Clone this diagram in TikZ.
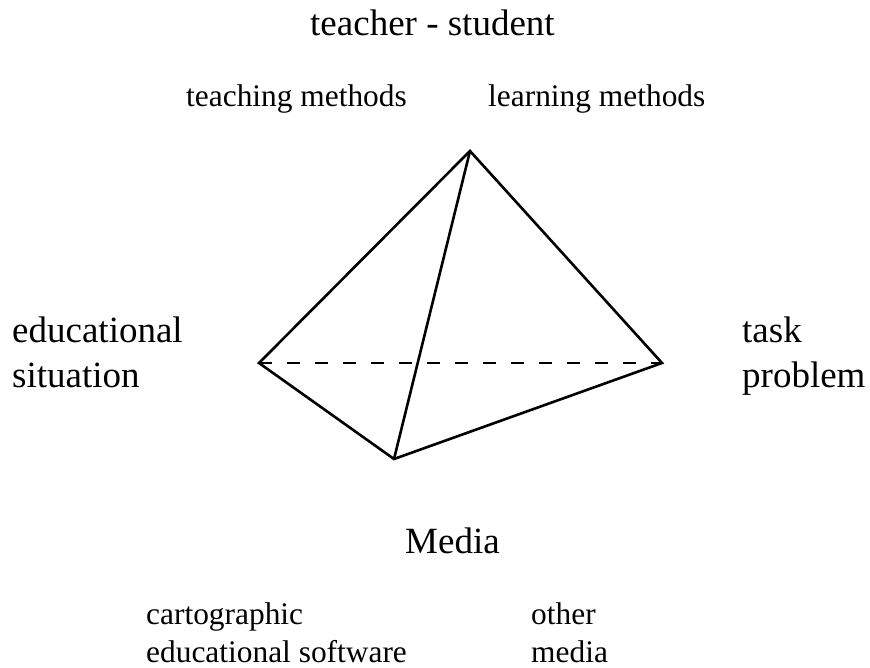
\documentclass[tikz,border=0pt]{standalone}
\usepackage{fontspec}
\setmainfont{Liberation Serif}
\begin{document}
\begin{tikzpicture}[x=1pt,y=-1pt,
  big/.style={anchor=base west,inner sep=0pt,font=\fontsize{37}{37}\selectfont},
  small/.style={anchor=base west,inner sep=0pt,font=\fontsize{31.4}{31.4}\selectfont},
  edge/.style={line width=2.6pt,line join=miter},
  hidden/.style={edge,dash pattern=on 13pt off 15pt}]
\useasboundingbox (0,0) rectangle (870,668);

% corners of the tetrahedron
\coordinate (top) at (470,151);
\coordinate (left) at (259,363);
\coordinate (right) at (662,363);
\coordinate (bottom) at (394,459);

% hidden back edge
\draw[hidden] (left) -- (right);
% visible edges
\draw[edge] (left) -- (top) -- (right) -- (bottom) -- cycle;
\draw[edge] (top) -- (bottom);

% labels
\node[big] (ts) at (310,36) {teacher - student};
\node[small] (tm) at (186,107) {teaching methods};
\node[small] (lm) at (488,107) {learning methods};

\node[big] (es1) at (12,342) {educational};
\node[big] (es2) at (12,387) {situation};

\node[big] (tp1) at (742,342) {task};
\node[big] (tp2) at (742,387) {problem};

\node[big] (med) at (405,553) {Media};
\node[small] (cs1) at (146,624) {cartographic};
\node[small] (cs2) at (146,662) {educational software};
\node[small] (om1) at (531,624) {other};
\node[small] (om2) at (531,662) {media};
\end{tikzpicture}
\end{document}
